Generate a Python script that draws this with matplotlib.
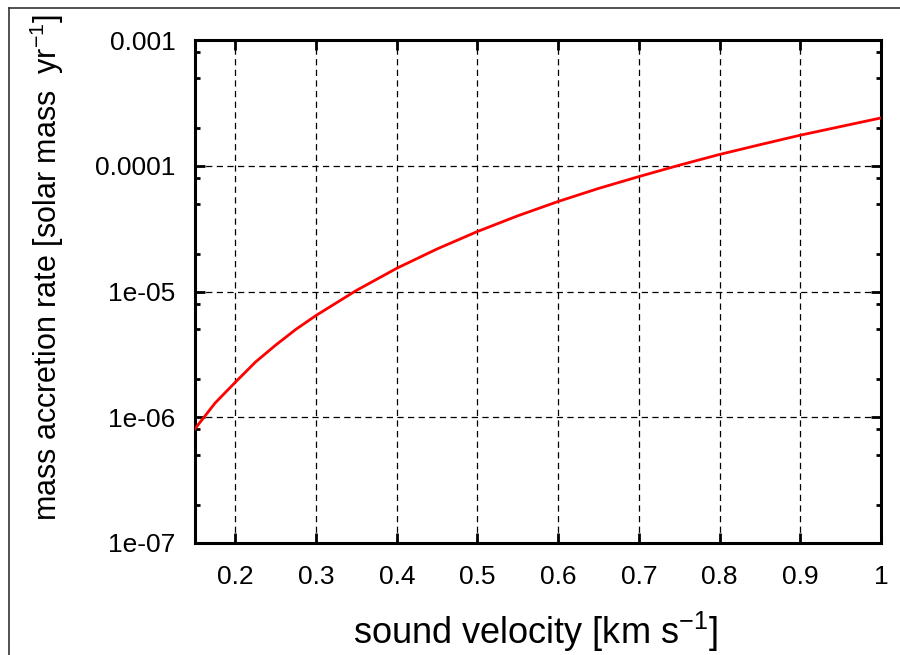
import numpy as np
import matplotlib
matplotlib.use('Agg')
import matplotlib.pyplot as plt
from matplotlib.ticker import FixedLocator, NullFormatter

plt.rcParams['font.family'] = 'Liberation Sans'
plt.rcParams['mathtext.fontset'] = 'custom'
plt.rcParams['mathtext.rm'] = 'Liberation Sans'

# DATA
sound_velocity = [0.15, 0.175, 0.20, 0.225, 0.25, 0.275, 0.30, 0.35, 0.40, 0.45,
                  0.50, 0.55, 0.60, 0.65, 0.70, 0.75, 0.80, 0.85, 0.90, 0.95, 1.00]
accretion_rate = [8.1e-7, 1.3e-6, 1.9e-6, 2.75e-6, 3.75e-6, 5.0e-6, 6.45e-6,
                  1.02e-5, 1.53e-5, 2.18e-5, 3.0e-5, 4.0e-5, 5.2e-5, 6.6e-5,
                  8.2e-5, 1.01e-4, 1.23e-4, 1.47e-4, 1.75e-4, 2.05e-4, 2.4e-4]
x_ticks = [0.2, 0.3, 0.4, 0.5, 0.6, 0.7, 0.8, 0.9, 1.0]
x_ticklabels = ['0.2', '0.3', '0.4', '0.5', '0.6', '0.7', '0.8', '0.9', '1']
y_ticks = [1e-7, 1e-6, 1e-5, 1e-4, 1e-3]
y_ticklabels = ['1e-07', '1e-06', '1e-05', '0.0001', '0.001']

# FIGURE
fig = plt.figure(figsize=(9, 6.55), dpi=100)
ax = fig.add_axes([195/900, 1 - 543/655, (881-195)/900, (543-40)/655])

ax.plot(sound_velocity, accretion_rate, color='red', lw=2.0, zorder=3)

ax.set_yscale('log')
ax.set_xlim(0.15, 1.0)
ax.set_ylim(1e-7, 1e-3)

ax.set_xticks(x_ticks)
ax.set_xticklabels(x_ticklabels)
ax.set_yticks(y_ticks)
ax.set_yticklabels(y_ticklabels)
minor = [m * 10.0**e for e in range(-7, -3) for m in (2, 5, 8)]
ax.yaxis.set_minor_locator(FixedLocator(minor))
ax.yaxis.set_minor_formatter(NullFormatter())
ax.xaxis.set_minor_locator(FixedLocator([]))

# DESIGN
ax.tick_params(axis='both', which='major', direction='in', length=7, width=2,
               top=True, right=True, labelsize=19, color='black')
ax.tick_params(axis='x', which='major', pad=16)
ax.tick_params(axis='y', which='major', pad=14)
ax.tick_params(axis='y', which='minor', direction='in', length=3.5, width=2,
               left=True, right=True)
for spine in ax.spines.values():
    spine.set_linewidth(2.2)
ax.grid(True, which='major', color='black', linestyle=(0, (5, 3.5)), lw=0.9)

fig.text(47/900, 1 - 268/655, r'mass accretion rate [solar mass  yr$^{-1}$]',
         rotation=90, ha='center', va='center', fontsize=22)
fig.text(535/900, 1 - 632/655, r'sound velocity [km s$^{-1}$]',
         ha='center', va='center', fontsize=26)

# FRAME
fig.add_artist(plt.Line2D([9/900, 9/900], [0, 1 - 8/655], color='#333333', lw=1.2,
                          transform=fig.transFigure))
fig.add_artist(plt.Line2D([9/900, 1], [1 - 8/655, 1 - 8/655], color='#333333', lw=1.2,
                          transform=fig.transFigure))

plt.savefig('out.png', dpi=100)
